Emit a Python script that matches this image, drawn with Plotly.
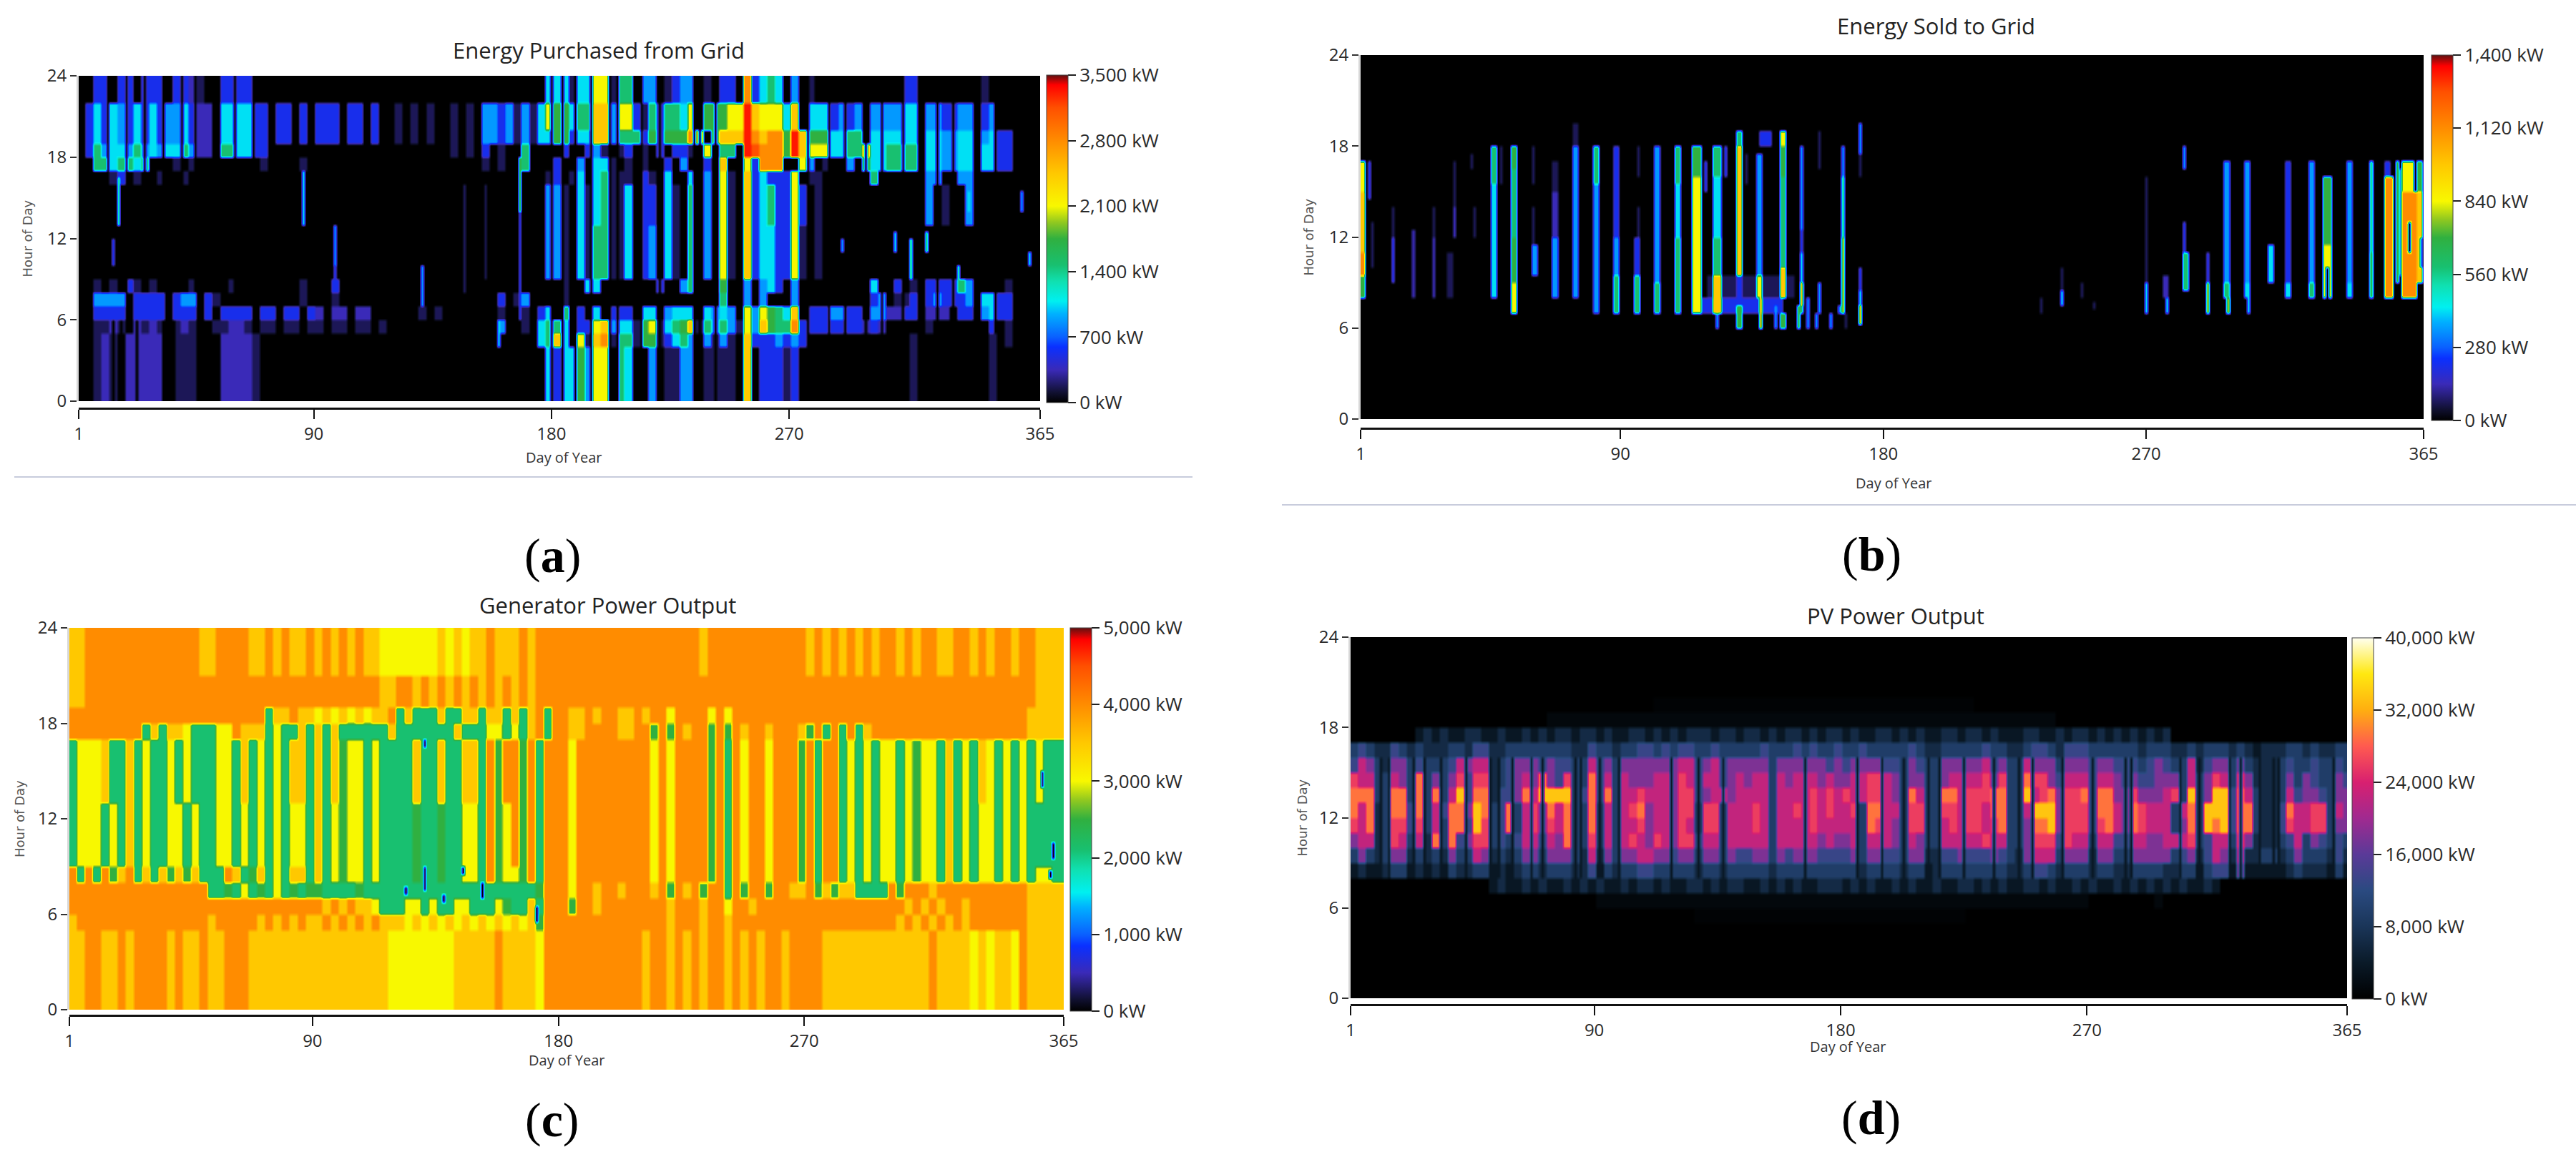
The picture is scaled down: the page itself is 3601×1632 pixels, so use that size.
import numpy as np
import plotly.graph_objects as go

W, H = 3601, 1632
DAY_TICKS = [1, 90, 180, 270, 365]
HOUR_TICKS = [0, 6, 12, 18, 24]

# Level codes, as a fraction of each panel's colour-bar maximum
LEVELS = {"0": 0, "z": .02, "a": .05, "1": .1, "b": .15, "2": .2, "c": .25, "3": .3, "d": .35, "4": .42,
          "5": .5, "6": .6, "7": .7, "8": .8, "9": .9, "x": .95}
PV_LEVELS = {"0": 0, "z": .012, "a": .03, "1": .09, "2": .16, "3": .24, "4": .33, "5": .45, "6": .56, "7": .65,
             "8": .73, "9": .84}

# Rows: (hour from, hour to, readings for consecutive 3-day groups)
A_MAX = 3500
A_ROWS = [
 (22, 24, "00bb0bb0bb b0bb1a00bb bb00000000 0000000000 0000000000 0000000003 33a3366a44 0cc0abcc0a 0bb08b3430 c0a0000000 0000bb0000 0000a00000 00"),
 (20, 22, "0b3b3cb3b3 bcc3b11033 33bb0bb0b0 bbb0bb0b00 a0a0a00a0a 0ccbcaca36 5534477c66 ba4b443605 5566x76663 70333bcbc0 cccc330ccb bcc0bc0000 00"),
 (19, 20, "0b3b3cb3b3 bcc3b11033 33bb0bb0b0 bbb0bb0b00 a0a0a00a0a 0ccbcaca33 55b3377c44 4b5b555870 5777x87885 x755533440 333333033c c330c3bb00 00"),
 (18, 19, "0b4c33c4c3 c334c11044 33bb000000 0000000000 0000000a0a 0b0a004000 0b00bca0ab 0a0b0bba06 0440x98885 x766633447 334444033c c33033bb00 00"),
 (17, 18, "0044344340 00a0a00000 000a0000a0 0000000000 0000000000 0a0a004000 b00c033a0a 0a00b0c00b 07006b8880 06c0a00c05 334444033c c33033bb00 00"),
 (16, 17, "0000ab0a00 a00a000000 0000000000 0000000000 0000000000 000000000a b0a3034aaa 0ba030030c 06a07b3bbb 60aa000000 4000000cc0 0cc0000000 00"),
 (13, 16, "0000000000 0000000000 0000000000 0000000000 0000000000 000000000c ca03a34aa3 0bb03a040c 06a07b34bb 6b0a000000 0000000c0a 00c0000000 00"),
 (9, 13,  "0000000000 0000000000 0000000000 0000000000 0000000000 000000000c ca03a44aa3 0bc03a040c 06a07b33bb 6a0a000000 0000000000 0000000000 00"),
 (8, 9,   "00a0a0ba0a 0000a0000a 00000000a0 00b0000000 0000000000 0000000000 0a00330000 000b00c400 0500c0c3b0 c000000000 300b0a0bbb b4c0000a00 00"),
 (7, 8,   "00cccc0bbb b0bcc0ba00 00000000a0 00a0000000 0000000000 000b0ac000 0a00000000 0000000000 0400c0c000 c000000000 bc0aab0bcb bbc033bb00 00"),
 (6, 7,   "00bbbb0bbb b0bbb0b0bb bb0bb0bb0b 1011011000 000a0a0000 000a00a0b3 040b030bbb 0330c33303 c3c06c6543 70bbbccbb0 cc11bb0111 0bb0c3bb00 00"),
 (5, 6,   "00aa1a01a1 a0a1a00aa1 1a0aa0aa0a a0aa0aa0a0 0000000000 000c00a034 430bb67c33 a56a3457a4 c4ca6c7544 8bbbbbbbb1 b100000a00 00000b0a00 00"),
 (4, 5,   "00a1a01111 10aaa00011 11a0000000 0000000000 0000000000 0000000034 7306a78a44 a55ab34c0c aca07bbbcb cb00000000 00000a0000 00000a0a00 00"),
 (0, 4,   "00a1a01111 10aaa00011 11a0000000 0000000000 0000000000 0000000003 b335c66043 00c0aacc0a aaa070bbba b000000000 00000a0000 00000a0000 00"),
]
# Thin features: (first day, day after last, hour from, hour to, level)
A_STRIPES = [
 (16, 17, 13, 16.5, "4"), (14, 15, 10, 12, "b"), (86, 87, 13, 17, "3"), (98, 99, 10, 13, "c"), (98, 99, 8, 10, "b"),
 (131, 132, 7, 10, "c"), (147, 148, 8, 16, "a"), (155, 156, 9, 16, "a"), (160, 161, 4, 6, "3"), (168, 169, 14, 18, "5"),
 (168, 169, 6, 14, "b"), (290, 291, 11, 12, "c"), (310, 311, 11, 12.5, "3"), (316, 317, 9, 12, "4"),
 (322, 323, 11, 12.5, "4"), (334, 335, 8, 10, "4"), (338, 339, 14, 15.5, "3"), (358, 359, 14, 15.5, "c"), (361, 362, 10, 11, "3"),
]
# Dark gaps between the stripes
A_GAPS_MORNING = [14, 17, 23, 33, 37]
A_GAPS_WINTER = [12, 19, 26, 33, 40, 45, 53, 60, 67]
A_GAPS_SUMMER = [180, 184, 189, 195, 202, 205, 214, 221, 234, 236, 242]
A_GAPS_AUTUMN = [277, 285, 291, 299, 305, 313, 320, 326, 332, 341, 348]

B_MAX = 1400
B_STRIPES = [
 (117, 146, 7, 8, "b"), (120, 150, 8, 9.5, "a"),
 (1, 3, 15, 17, "6"), (4, 5, 14.5, 17, "b"), (1, 3, 11, 15, "7"), (1, 3, 9.5, 11, "8"), (1, 3, 8, 9.5, "5"), (5, 6, 10, 13, "a"),
 (12, 13, 12, 14, "a"), (12, 13, 9, 12, "b"), (19, 20, 8, 12.5, "1"), (26, 27, 12, 14, "a"), (26, 27, 8, 12, "1"),
 (31, 33, 8, 11, "a"), (33, 34, 14, 17, "a"), (33, 34, 12, 14, "1"), (39, 40, 16.5, 17.5, "a"), (40, 41, 12, 14, "a"),
 (46, 48, 15.5, 18, "4"), (46, 48, 8, 15.5, "3"), (49, 50, 15.5, 18, "a"),
 (53, 55, 16.5, 18, "5"), (53, 55, 12, 16.5, "4"), (53, 55, 9, 12, "5"), (53, 55, 7, 9, "6"),
 (60, 61, 15.5, 18, "a"), (60, 61, 11.5, 14, "a"), (60, 62, 9.5, 11.5, "c"),
 (67, 69, 15, 17, "a"), (67, 69, 12, 15, "1"), (67, 69, 8, 12, "c"),
 (74, 76, 18, 19.5, "a"), (74, 76, 8, 18, "c"),
 (81, 83, 15.5, 18, "4"), (81, 83, 9, 15.5, "c"), (81, 83, 7, 9, "c"),
 (88, 90, 12, 18, "b"), (88, 90, 9.5, 12, "c"), (88, 90, 7, 9.5, "4"),
 (96, 97, 16, 18, "a"), (96, 97, 12, 14, "a"), (95, 97, 9.5, 12, "b"), (95, 97, 7, 9.5, "4"),
 (102, 104, 9, 18, "c"), (102, 104, 7, 9, "4"),
 (109, 111, 15.5, 18, "4"), (109, 111, 12, 15.5, "3"), (109, 111, 7, 12, "4"),
 (115, 118, 16, 18, "5"), (115, 118, 9, 16, "6"), (115, 118, 7, 9, "6"), (119, 120, 15, 17, "b"),
 (122, 125, 16, 18, "4"), (122, 125, 12, 16, "3"), (122, 125, 9.5, 12, "4"), (122, 125, 7, 9.5, "7"), (123, 124, 6, 7, "c"), (126, 127, 16, 18, "b"),
 (130, 132, 18, 19, "4"), (130, 132, 9.5, 18, "7"), (130, 132, 7.5, 9.5, "b"), (130, 132, 6, 7.5, "5"), (133, 134, 15.5, 17.5, "a"),
 (137, 139, 8.5, 17.5, "c"), (137, 139, 8, 9.5, "6"), (138, 139, 6, 8, "7"), (138, 142, 18, 19, "b"), (143, 144, 6, 7.5, "c"),
 (145, 147, 18, 19, "6"), (145, 147, 16, 18, "5"), (145, 147, 10, 16, "4"), (145, 147, 8, 10, "7"), (145, 147, 6, 7, "5"),
 (152, 153, 12.5, 18, "c"), (152, 153, 11, 12.5, "b"), (152, 153, 9, 11, "3"), (152, 153, 7.5, 9, "7"), (152, 153, 7, 7.5, "4"),
 (151, 152, 6, 7.5, "5"), (154, 155, 6, 8, "c"), (158, 159, 16.5, 19, "a"), (158, 159, 7, 9, "c"), (157, 158, 6, 7, "c"),
 (162, 163, 6, 7, "c"), (165, 166, 7, 7.5, "c"), (166, 167, 16, 18, "c"), (166, 167, 12, 16, "4"), (166, 167, 7, 12, "6"), (167, 168, 6, 7, "a"),
 (172, 173, 17.5, 19.5, "c"), (172, 173, 16, 17.5, "a"), (172, 173, 8.5, 10, "b"), (172, 173, 7.5, 8.5, "3"), (172, 173, 6.2, 7.5, "7"),
 (234, 235, 7, 8, "a"), (241, 242, 8.5, 10, "a"), (241, 242, 7.5, 8.5, "3"), (248, 249, 8, 9, "a"), (252, 253, 7.3, 7.8, "a"),
 (270, 271, 9, 16, "a"), (270, 271, 7, 9, "3"), (276, 278, 8, 9.5, "1"), (277, 278, 7, 8, "3"),
 (283, 284, 16.5, 18, "c"), (283, 284, 11, 13, "b"), (283, 285, 8.5, 11, "4"), (291, 292, 9, 11, "b"), (291, 292, 7, 9, "6"),
 (297, 299, 9, 17, "c"), (297, 299, 8, 9, "4"), (298, 299, 7, 8, "6"), (304, 306, 9, 17, "c"), (304, 306, 8, 9, "3"), (305, 306, 7, 8, "3"),
 (312, 314, 9, 11.5, "3"), (318, 320, 9, 17, "b"), (318, 320, 8, 9, "3"), (326, 328, 9, 17, "c"), (326, 328, 8, 9, "4"),
 (331, 334, 11.5, 16, "5"), (331, 334, 10, 11.5, "6"), (331, 332, 8, 10, "6"), (333, 334, 8, 10, "6"),
 (339, 341, 9, 17, "c"), (339, 341, 8, 9, "3"), (347, 348, 13, 17, "4"), (347, 348, 11, 13, "4"), (347, 348, 8, 11, "5"),
 (352, 355, 8, 16, "8"), (352, 354, 16, 17, "b"), (356, 357, 9, 17, "5"), (357, 358, 9.5, 16.5, "c"),
 (358, 363, 8, 15, "8"), (358, 362, 15, 17, "6"), (363, 365, 9, 17, "7"), (363, 365, 15, 17, "5"), (364, 365, 10, 12, "c"), (360, 361, 11, 13, "0"),
]

C_MAX = 5000
C_ROWS = [
 (21, 24, "7788888888 8888887788 8877878778 7878787766 6666676767 7877787888 8888888888 8888888788 8888888888 7878787878 8787887788 7878878877 77"),
 (19, 21, "7788888888 8888888888 8888888888 8888888877 8878787878 7878787888 8888888888 8888888888 8888888888 8888888888 8888888888 8888888877 77"),
 (18, 19, "8888888888 8888888888 8888477877 6767676778 4744474477 4774747848 8778788778 7886888868 6888888888 8888888888 8888888888 8888888777 77"),
 (17, 18, "8888888884 7477644466 8777464474 7474444447 4444444744 4664647848 8778888778 8585878858 5878878887 5848484788 8888888888 8888888777 77"),
 (13, 17, "4666744746 4464644466 4746464774 7475664644 4474474477 4858858488 8688888888 8686888858 4868868885 8488464646 6465664746 4764646464 44"),
 (9, 13,  "4666464746 4466464466 4646464664 7465664644 4454454466 4856858488 8688888888 8686888858 4868868885 8488464646 6465664746 4664646444 44"),
 (8, 9,   "8484857847 4757574448 7457464774 7465664644 4454454466 4856658488 8688888888 8686888858 4868868885 8488464646 6465664746 4664646466 44"),
 (7, 8,   "8888888888 8888888445 4645464545 5444454444 4444444444 4444444588 8688788788 8785878588 4858858877 8575774444 8588878888 8888888777 77"),
 (6, 7,   "8888888888 8888888888 8888888888 8787877644 4664644664 4465447488 8588788888 8887888788 6887888888 8888888888 8878787887 8888888777 77"),
 (5, 6,   "7888888888 8888888788 8887878787 7878787877 7676767676 7676767588 8888888888 8887888788 7888888888 8888888888 8787878787 8888888777 77"),
 (0, 5,   "7788778788 8878778778 8877777777 7777777776 6666666777 7787777688 8888888888 7887878788 7878788788 8877777777 7777787777 6767768777 77"),
]
C_STRIPES = [
 (131, 132, 7.5, 9, "0"), (131, 132, 16.5, 17, "0"), (145, 146, 8.5, 9, "0"), (152, 153, 7, 8, "0"), (124, 125, 7.3, 7.7, "0"),
 (138, 139, 6.8, 7.2, "0"), (172, 173, 5.5, 6.5, "0"), (357, 358, 14, 15, "0"), (361, 362, 9.5, 10.5, "0"), (360, 361, 8.3, 8.8, "0"),
]

D_MAX = 40000
D_ROWS = [
 (19, 20, "0000000000 0000000000 0000000000 0000000zzz zzzzzzzzzz zzzzzzzzzz zzzzzzzzzz zzzzzz0000 0000000000 0000000000 0000000000 0000000000 00"),
 (18, 19, "0000000000 0000000000 0000aaaaaa aaaaaaaaaa aaaaaaaaaa aaaaaaaaaa aaaaaaaaaa aaaaaaaaaa aaaaaa0000 0000000000 0000000000 0000000000 00"),
 (17, 18, "0000000012 1211221121 1212122122 1211221212 1222122122 1212212122 1211221212 1122122121 1122112122 1212121212 0000000000 0000000000 00"),
 (16, 17, "3432243232 2233244223 3333333224 3323344343 4433433333 4333434334 3343333343 2233333433 2234432444 3333332333 2232333232 1222332322 33"),
 (15, 16, "4653255343 3346566234 5554544336 4535555555 6645645555 5355555545 4555544354 3355555645 3365553555 4554443454 3362455353 2223433433 43"),
 (14, 15, "7663365383 5357477234 5658547338 4636555665 7646645656 6365666565 5667765355 3356666757 3387754666 4665454455 5363576375 2223535433 54"),
 (13, 14, "8883388383 8369488244 5869999348 4836676665 7745665666 6366667676 7667765386 3388677788 3396785778 4885575556 7393599486 3223645543 55"),
 (12, 13, "8682388483 6488598348 3675868338 3636785665 7737736667 6366767676 6738866377 3377677688 3369995777 4886587666 3683999488 3224866773 65"),
 (11, 12, "7682377473 6388497348 3675768338 3636675665 7637736667 6366667666 6638765377 3367677678 3358895777 4786587666 3583989488 3224766773 55"),
 (10, 11, "5662376362 8384577343 4664658337 3636765765 7746636666 6366666565 5636665365 3366666766 3357774766 3664466556 6673466375 2223463543 43"),
 (9, 10,  "3532355232 3253365232 3553555326 2535566554 5535535445 5354555444 4535544355 2244544454 3256663555 2553355555 3452465262 2332353332 42"),
 (8, 9,   "1211233121 2132233121 2332333224 1323344333 3323323333 3233333333 3323333233 1233333333 2234432333 2332233332 2331344151 1111232221 31"),
 (7, 8,   "0000000000 0000000121 1212112121 2112122121 1221212211 2121211222 1212112121 1211221212 1122121121 2112121212 1211210000 0000000000 00"),
 (6, 7,   "0000000000 0000000000 0000000000 aaaaaaaaaa aaaaaaaaaa aaaaaaaaaa aaaaaaaaaa aaaaaaaaaa aaaaaaaaaa 00000000a0 0000000000 0000000000 00"),
 (5, 6,   "0000000000 0000000000 0000000000 0000000000 00zzzzzzzz zzzzzzzzzz zzzzzzzzzz zzzzz00000 0000000000 0000000000 0000000000 0000000000 00"),
]
# Overcast days read as dark lines through the midday block
D_DARK_DAYS = [12, 15, 24, 28, 34, 43, 52, 55, 60, 67, 71, 83, 85, 92, 99, 118, 128, 137, 167, 186, 195, 203, 212, 216,
               225, 236, 245, 250, 261, 272, 284, 286, 304, 311, 322, 326, 333, 338, 340, 360]

RES = 4  # grid rows per hour


def build(rows, stripes, vmax, levels=LEVELS):
    z = np.zeros((24 * RES, 365))
    for h0, h1, text in rows:
        codes = text.replace(" ", "")
        for i, code in enumerate(codes):
            z[int(h0 * RES):int(h1 * RES), 3 * i:3 * i + 3] = levels[code] * vmax
    for d0, d1, h0, h1, code in stripes:
        z[int(round(h0 * RES)):int(round(h1 * RES)), d0 - 1:d1 - 1] = levels[code] * vmax
    return z


def gaps(days, h0, h1, code="0"):
    return [(d, d + 1, h0, h1, code) for d in days]


A_ALL = (gaps(A_GAPS_MORNING, 0, 6) + gaps(A_GAPS_WINTER, 8, 24) + gaps(A_GAPS_SUMMER, 0, 24) +
         gaps(A_GAPS_AUTUMN, 5, 24) + A_STRIPES)

JET = [[0, "#000000"], [.03, "#101030"], [.1, "#3a2ab8"], [.17, "#0a30ff"], [.2, "#0a60ff"], [.27, "#00b0ff"],
       [.31, "#00f0f0"], [.37, "#10e0b0"], [.42, "#18c070"], [.5, "#30b040"], [.55, "#90c820"], [.6, "#f8f800"],
       [.7, "#ffc800"], [.8, "#ff8c00"], [.9, "#ff5000"], [.97, "#ff0000"], [1, "#601010"]]
PV = [[0, "#000000"], [.1, "#0a1a28"], [.2, "#1a3558"], [.3, "#2a4a80"], [.4, "#5a3a98"], [.5, "#a02a90"],
      [.6, "#d82070"], [.7, "#ff5a50"], [.8, "#ffae10"], [.9, "#ffe810"], [1, "#fffff0"]]

PANELS = [
 dict(title="Energy Purchased from Grid", tx=837, ty=70, l=110, r=1454, t=106, b=561, axy=571, lx=788, ly=640, ylx=38,
      cl=1463, ct=105, cb=563, cap="a", cx=772, cy=777, z=build(A_ROWS, A_ALL, A_MAX), vmax=A_MAX,
      ticks=[0, 700, 1400, 2100, 2800, 3500], cs=JET),
 dict(title="Energy Sold to Grid", tx=2706, ty=36, l=1902, r=3388, t=77, b=586, axy=599, lx=2647, ly=675, ylx=1829,
      cl=3399, ct=77, cb=588, cap="b", cx=2616, cy=775, z=build([], B_STRIPES, B_MAX), vmax=B_MAX,
      ticks=[0, 280, 560, 840, 1120, 1400], cs=JET),
 dict(title="Generator Power Output", tx=849, ty=846, l=97, r=1487, t=878, b=1412, axy=1420, lx=792, ly=1482, ylx=27,
      cl=1496, ct=878, cb=1414, cap="c", cx=772, cy=1566, z=build(C_ROWS, C_STRIPES, C_MAX), vmax=C_MAX,
      ticks=[0, 1000, 2000, 3000, 4000, 5000], cs=JET),
 dict(title="PV Power Output", tx=2650, ty=861, l=1888, r=3281, t=891, b=1396, axy=1405, lx=2583, ly=1463, ylx=1820,
      cl=3288, ct=892, cb=1397, cap="d", cx=2615, cy=1563,
      z=build(D_ROWS, gaps(D_DARK_DAYS, 8, 16, "1"), D_MAX, PV_LEVELS), vmax=D_MAX,
      ticks=[0, 8000, 16000, 24000, 32000, 40000], cs=PV),
]

TEXT = "#2a2a2a"
FONT = "Open Sans, sans-serif"
fig = go.Figure()
layout = dict(width=W, height=H, margin=dict(l=0, r=0, t=0, b=0, autoexpand=False), autosize=False, paper_bgcolor="white",
              plot_bgcolor="black", showlegend=False, annotations=[], shapes=[])

for n, p in enumerate(PANELS):
    k = "" if n == 0 else str(n + 1)
    bar = dict(x=p["cl"] / W, xanchor="left", y=1 - p["cb"] / H, yanchor="bottom",
               lenmode="pixels", len=p["cb"] - p["ct"], thicknessmode="pixels", thickness=30,
               xpad=0, ypad=0, outlinewidth=1, outlinecolor="#444444", tickmode="array", tickvals=p["ticks"])
    fig.add_trace(go.Heatmap(
        z=p["z"], x0=1, dx=1, y0=0.5 / RES, dy=1 / RES, zmin=0, zmax=p["vmax"], colorscale=p["cs"], zsmooth="best",
        xaxis="x" + k, yaxis="y" + k, hoverinfo="skip",
        colorbar=dict(bar, ticktext=[f"{v:,} kW" for v in p["ticks"]], ticks="outside", ticklen=11, tickwidth=2,
                      tickcolor="#222222", tickfont=dict(family=FONT, size=26, color=TEXT))))
    # Same colour bar again, empty of data, only to carry the tick lines that cross the bar
    fig.add_trace(go.Heatmap(
        z=[[None]], x0=1, dx=1, y0=0, dy=1, zmin=0, zmax=p["vmax"], colorscale=p["cs"], xaxis="x" + k, yaxis="y" + k,
        hoverinfo="skip",
        colorbar=dict(bar, ticks="inside", ticklen=30, tickwidth=2, tickcolor="#222222", showticklabels=False)))
    layout["xaxis" + k] = dict(domain=[p["l"] / W, p["r"] / W], range=[1, 365], anchor="free", position=1 - p["axy"] / H,
                               tickmode="array", tickvals=DAY_TICKS, ticks="outside", ticklen=13, tickwidth=2,
                               tickcolor="#111111", showline=True, linecolor="#111111", linewidth=3, showgrid=False,
                               zeroline=False, tickfont=dict(family=FONT, size=24, color=TEXT))
    layout["yaxis" + k] = dict(domain=[1 - p["b"] / H, 1 - p["t"] / H], range=[0, 24], anchor="x" + k,
                               tickmode="array", tickvals=HOUR_TICKS, ticks="outside", ticklen=9, tickwidth=2,
                               tickcolor="#333333", showline=True, linecolor="#d8d8d8", linewidth=3, showgrid=False,
                               zeroline=False, tickfont=dict(family=FONT, size=24, color=TEXT))
    ann = layout["annotations"]
    ann.append(dict(text=p["title"], x=p["tx"] / W, y=1 - p["ty"] / H, xref="paper", yref="paper", showarrow=False,
                    xanchor="center", yanchor="middle", font=dict(family=FONT, size=31, color="#222222")))
    ann.append(dict(text="Day of Year", x=p["lx"] / W, y=1 - p["ly"] / H, xref="paper", yref="paper", showarrow=False,
                    xanchor="center", yanchor="middle", font=dict(family=FONT, size=20, color="#333333")))
    ann.append(dict(text="Hour of Day", x=p["ylx"] / W, y=1 - (p["t"] + p["b"]) / 2 / H, xref="paper", yref="paper",
                    showarrow=False, textangle=-90, xanchor="center", yanchor="middle",
                    font=dict(family="DejaVu Sans, sans-serif", size=18, color="#555555")))
    ann.append(dict(text=f"(<b>{p['cap']}</b>)", x=p["cx"] / W, y=1 - p["cy"] / H, xref="paper", yref="paper",
                    showarrow=False, xanchor="center", yanchor="middle",
                    font=dict(family="Liberation Serif, serif", size=68, color="black")))

for x0, x1, y in [(20, 1667, 667), (1792, 3601, 706)]:
    layout["shapes"].append(dict(type="line", xref="paper", yref="paper", x0=x0 / W, x1=x1 / W, y0=1 - y / H, y1=1 - y / H,
                                 line=dict(color="#c8ccdc", width=2)))

fig.update_layout(**layout)
fig.write_html("out.html", config={"displayModeBar": False}, post_script="document.body.style.margin='0';")
